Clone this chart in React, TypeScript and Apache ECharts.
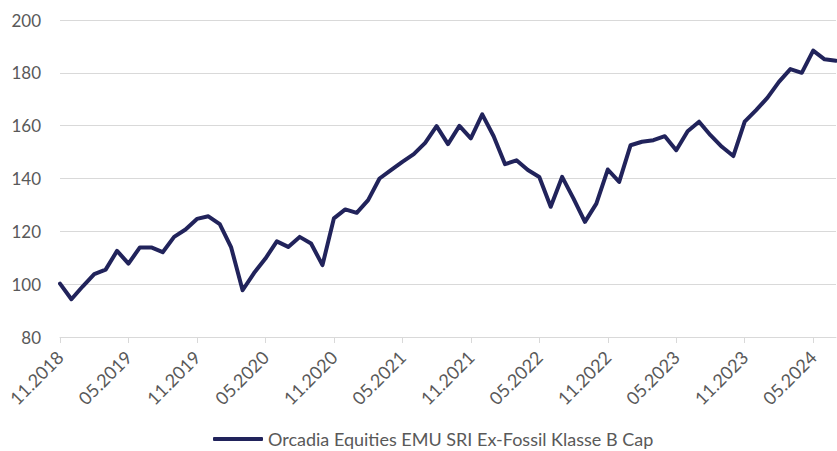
import React, { useEffect, useRef } from "react";
import * as echarts from "echarts";

const seriesName = "Orcadia Equities EMU SRI Ex-Fossil Klasse B Cap";

const months: string[] = [];
for (let y = 2018, m = 11; y < 2024 || (y === 2024 && m <= 7); ) {
  months.push(String(m).padStart(2, "0") + "." + y);
  m++;
  if (m > 12) { m = 1; y++; }
}

const values = [
  100.2, 94.3, 99.2, 103.8, 105.5, 112.6, 107.8, 113.9, 113.9, 112.1,
  117.9, 120.7, 124.7, 125.7, 122.7, 113.9, 97.7, 104.2, 109.7, 116.2,
  114.1, 117.9, 115.4, 107.2, 124.9, 128.3, 127.0, 131.8, 140.0, 143.2,
  146.3, 149.2, 153.5, 159.8, 153.0, 159.9, 155.2, 164.3, 156.0, 145.4,
  146.9, 143.2, 140.6, 129.3, 140.6, 132.4, 123.6, 130.5, 143.4, 138.7,
  152.6, 153.9, 154.5, 156.0, 150.7, 157.9, 161.5, 156.4, 152.0, 148.5,
  161.5, 165.9, 170.6, 176.6, 181.4, 180.0, 188.4, 185.1, 184.6,
];

const yTicks = { min: 80, max: 200, interval: 20 };

export default function App() {
  const ref = useRef<HTMLDivElement>(null);
  useEffect(() => {
    if (!ref.current) return;
    const chart = echarts.init(ref.current, null, { renderer: "svg" });
    const font = "Lato";
    const textColor = "#595959";
    chart.setOption({
      animation: false,
      grid: { left: 60, right: 1, top: 20, bottom: 114, containLabel: false },
      legend: {
        bottom: -2,
        left: 208,
        itemWidth: 50,
        itemHeight: 4,
        itemGap: 10,
        icon: "roundRect",
        textStyle: { color: textColor, fontFamily: font, fontSize: 18 },
        data: [seriesName],
      },
      xAxis: {
        type: "category",
        data: months,
        boundaryGap: false,
        axisLine: { lineStyle: { color: "#d9d9d9", width: 1 } },
        axisTick: { show: true, interval: 5, length: 6, lineStyle: { color: "#d9d9d9" } },
        axisLabel: {
          interval: 5,
          rotate: 45,
          color: textColor,
          fontFamily: font,
          fontSize: 18,
          margin: 17,
        },
        splitLine: { show: false },
      },
      yAxis: {
        type: "value",
        min: yTicks.min,
        max: yTicks.max,
        interval: yTicks.interval,
        axisLine: { show: false },
        axisTick: { show: false },
        axisLabel: { color: textColor, fontFamily: font, fontSize: 17, margin: 19 },
        splitLine: { lineStyle: { color: "#d9d9d9", width: 1 } },
      },
      series: [
        {
          name: seriesName,
          type: "line",
          data: values,
          showSymbol: false,
          symbol: "none",
          lineStyle: { color: "#21235b", width: 4, join: "round", cap: "round" },
          itemStyle: { color: "#21235b" },
        },
      ],
    });
    return () => chart.dispose();
  }, []);
  return <div ref={ref} style={{ width: 837, height: 451, position: "absolute", left: 0, top: 0 }} />;
}
